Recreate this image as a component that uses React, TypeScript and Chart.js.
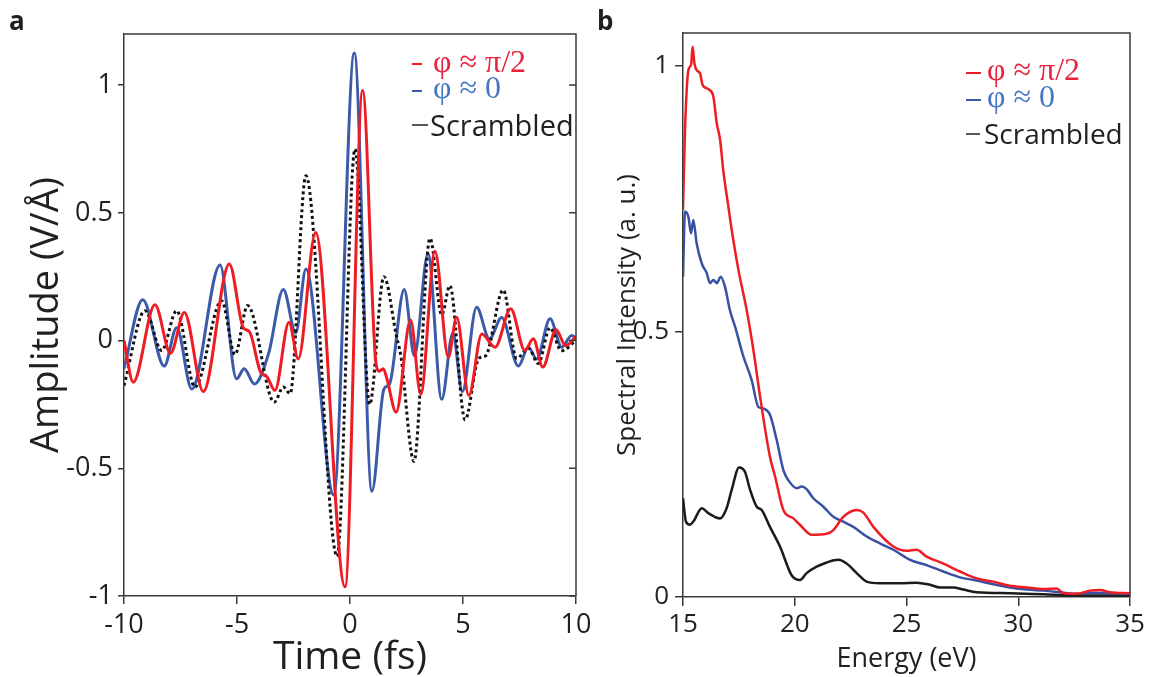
import React, { useEffect, useRef } from "react";
import { Chart, registerables } from "chart.js";

Chart.register(...registerables);

// ---------- Panel a: time-domain fields ----------
const timeTicks = [-10, -5, 0, 5, 10];
const amplitudeTicks = [-1, -0.5, 0, 0.5, 1];

const blueTime = [-10, -9.17, -8.22, -7.67, -7.0, -5.75, -5.02, -4.68, -4.23, -3.6, -2.95, -2.4, -1.95, -0.72, 0.19, 0.97, 1.5, 1.75, 2.4, 2.85, 3.45, 4.06, 4.55, 4.97, 5.6, 6.17, 6.71, 7.45, 7.89, 8.26, 8.85, 9.37, 9.81, 10];
const blueAmp = [-0.11, 0.16, -0.1, 0.05, -0.19, 0.296, -0.15, -0.11, -0.17, -0.05, 0.2, 0.03, 0.28, -0.605, 1.126, -0.59, -0.19, -0.17, 0.2, -0.06, 0.34, -0.23, 0.03, -0.2, 0.13, 0.007, 0.09, -0.1, -0.026, -0.072, 0.085, -0.026, 0.02, 0.01];

const redTime = [-10, -9.59, -8.63, -7.94, -7.33, -6.49, -5.34, -4.72, -4.45, -3.95, -3.69, -3.32, -2.7, -2.29, -1.52, -0.22, 0.56, 1.15, 1.3, 1.47, 1.62, 2.04, 2.68, 3.13, 3.76, 4.35, 4.72, 5.26, 5.83, 6.42, 7.11, 7.74, 8.11, 8.53, 9.12, 9.54, 10];
const redAmp = [0.0, -0.163, 0.14, -0.05, 0.11, -0.2, 0.3, 0.05, 0.035, -0.125, -0.14, -0.195, 0.072, -0.072, 0.423, -0.964, 0.979, -0.09, -0.12, -0.11, -0.145, -0.28, 0.08, -0.21, 0.35, -0.065, 0.091, -0.215, 0.026, -0.026, 0.124, -0.039, 0.007, -0.104, 0.042, -0.02, 0.016];

const scrTime = [-10, -9.07, -8.33, -7.67, -6.86, -5.68, -5.09, -4.53, -3.35, -2.95, -2.65, -1.95, -0.57, 0.22, 0.87, 1.5, 2.05, 2.25, 2.83, 3.54, 4.06, 4.42, 5.09, 5.7, 6.0, 6.78, 7.37, 7.9, 8.33, 8.85, 9.35, 10];
const scrAmp = [-0.176, 0.117, -0.039, 0.117, -0.182, 0.156, -0.055, 0.137, -0.241, -0.182, -0.208, 0.645, -0.845, 0.749, -0.25, 0.25, 0.02, -0.06, -0.473, 0.4, 0.1, 0.215, -0.31, -0.07, -0.06, 0.198, -0.07, -0.03, -0.09, 0.05, -0.04, 0.0];

// ---------- Panel b: spectra ----------
const energyTicks = [15, 20, 25, 30, 35];
const intensityTicks = [0, 0.5, 1];

const redEnergy = [15.0, 15.09, 15.24, 15.36, 15.43, 15.51, 15.61, 15.76, 15.88, 16.06, 16.18, 16.36, 16.51, 16.66, 16.8, 17.03, 17.18, 17.48, 17.85, 18.15, 18.45, 18.89, 19.12, 19.49, 19.94, 20.23, 20.76, 21.43, 21.73, 22.17, 22.77, 23.07, 23.52, 24.41, 25.01, 25.45, 25.9, 26.65, 27.39, 28.14, 28.89, 29.63, 30.38, 31.12, 31.72, 32.02, 32.61, 33.21, 33.66, 34.1, 35.0];
const redIntensity = [0.729, 0.88, 0.992, 1.002, 1.036, 1.005, 0.992, 0.986, 0.964, 0.958, 0.955, 0.942, 0.892, 0.861, 0.804, 0.735, 0.691, 0.616, 0.54, 0.465, 0.377, 0.264, 0.227, 0.164, 0.148, 0.136, 0.117, 0.119, 0.126, 0.151, 0.164, 0.159, 0.132, 0.095, 0.087, 0.089, 0.076, 0.063, 0.048, 0.035, 0.029, 0.021, 0.018, 0.015, 0.016, 0.007, 0.006, 0.012, 0.013, 0.009, 0.007];

const blueEnergy = [15.0, 15.09, 15.24, 15.36, 15.46, 15.61, 15.84, 16.06, 16.21, 16.36, 16.51, 16.69, 16.88, 17.1, 17.33, 17.7, 18.07, 18.37, 18.59, 18.89, 19.19, 19.49, 19.71, 20.09, 20.31, 20.53, 20.83, 21.28, 21.73, 22.17, 22.62, 23.22, 23.81, 24.41, 25.16, 25.9, 26.65, 27.39, 28.14, 28.89, 29.63, 30.38, 31.12, 31.87, 32.61, 33.36, 34.1, 35.0];
const blueIntensity = [0.603, 0.726, 0.716, 0.685, 0.71, 0.666, 0.628, 0.61, 0.591, 0.597, 0.591, 0.603, 0.584, 0.54, 0.509, 0.453, 0.409, 0.358, 0.355, 0.343, 0.296, 0.239, 0.22, 0.205, 0.208, 0.203, 0.186, 0.17, 0.151, 0.142, 0.132, 0.114, 0.101, 0.089, 0.07, 0.06, 0.048, 0.037, 0.031, 0.024, 0.018, 0.014, 0.012, 0.009, 0.006, 0.008, 0.007, 0.006];

const blackEnergy = [15.0, 15.13, 15.31, 15.46, 15.84, 16.13, 16.66, 16.95, 17.18, 17.51, 17.77, 18.0, 18.3, 18.52, 18.89, 19.34, 19.86, 20.23, 20.53, 20.98, 21.43, 21.95, 22.32, 22.77, 23.22, 23.81, 24.71, 25.45, 26.05, 26.5, 27.1, 27.54, 28.14, 29.63, 31.12, 32.61, 35.0];
const blackIntensity = [0.186, 0.142, 0.136, 0.142, 0.167, 0.158, 0.148, 0.167, 0.202, 0.244, 0.236, 0.202, 0.17, 0.164, 0.132, 0.095, 0.041, 0.032, 0.045, 0.057, 0.065, 0.07, 0.063, 0.045, 0.029, 0.026, 0.026, 0.027, 0.023, 0.018, 0.018, 0.014, 0.009, 0.007, 0.005, 0.003, 0.003];

const legendLabels = ["φ ≈ π/2", "φ ≈ 0", "Scrambled"];

// ---------- styling ----------
const SANS = "'Open Sans', 'Noto Sans', sans-serif";
const SERIF = "'Liberation Serif', 'DejaVu Serif', serif";
const INK = "#231f20";
const AXIS = "#3a3a3a";
const RED = "#ee1d24";
const BLUE = "#3b5ba9";
const RED_TEXT = "#e8223f";
const BLUE_TEXT = "#4677c4";

function pts(xs: number[], ys: number[]) {
  return xs.map((x, i) => ({ x, y: ys[i] }));
}

type LegendItem = {
  label: string;
  color: string;
  textColor: string;
  font: string;
  x1: number;
  x2: number;
  ly: number;
  lw: number;
  tx: number;
  baseline: number;
};

function makeFramePlugin(rightTicks: number[] | null, legend: LegendItem[]) {
  return {
    id: "frameAndLegend",
    afterDraw(chart: any) {
      const { ctx, chartArea } = chart;
      const { left, right, top, bottom } = chartArea;
      ctx.save();
      ctx.strokeStyle = AXIS;
      ctx.lineWidth = 1.5;
      ctx.beginPath();
      ctx.moveTo(left, top);
      ctx.lineTo(right, top);
      ctx.lineTo(right, bottom);
      ctx.stroke();
      if (rightTicks) {
        const ys = chart.scales.y;
        ctx.beginPath();
        for (const v of rightTicks) {
          const py = ys.getPixelForValue(v);
          ctx.moveTo(right - 7, py);
          ctx.lineTo(right, py);
        }
        ctx.stroke();
      }
      for (const it of legend) {
        ctx.strokeStyle = it.color;
        ctx.lineWidth = it.lw;
        ctx.beginPath();
        ctx.moveTo(it.x1, it.ly);
        ctx.lineTo(it.x2, it.ly);
        ctx.stroke();
        ctx.fillStyle = it.textColor;
        ctx.font = it.font;
        ctx.textBaseline = "alphabetic";
        ctx.textAlign = "left";
        ctx.fillText(it.label, it.tx, it.baseline);
      }
      ctx.restore();
    },
  };
}

function scaleCommon(tickValues: number[], tickSize: number, tickLen: number, tickPad: number) {
  return {
    type: "linear" as const,
    afterBuildTicks: (axis: any) => {
      axis.ticks = tickValues.map((v) => ({ value: v }));
    },
    ticks: {
      font: { family: SANS, size: tickSize },
      color: INK,
      padding: tickPad,
      autoSkip: false,
      maxRotation: 0,
      callback: (v: any) => String(v),
    },
    grid: {
      display: true,
      drawOnChartArea: false,
      drawTicks: true,
      tickLength: tickLen,
      color: AXIS,
      lineWidth: 1.5,
    },
    border: { display: true, color: AXIS, width: 1.5 },
  };
}

export default function App() {
  const refA = useRef<HTMLCanvasElement>(null);
  const refB = useRef<HTMLCanvasElement>(null);

  useEffect(() => {
    const chartA = new Chart(refA.current as HTMLCanvasElement, {
      type: "line",
      data: {
        datasets: [
          {
            label: legendLabels[0],
            data: pts(redTime, redAmp),
            borderColor: RED,
            borderWidth: 3,
            cubicInterpolationMode: "monotone",
            pointRadius: 0,
            order: 0,
          },
          {
            label: legendLabels[2],
            data: pts(scrTime, scrAmp),
            borderColor: "#111111",
            borderWidth: 3,
            borderDash: [3, 3],
            cubicInterpolationMode: "monotone",
            pointRadius: 0,
            order: 1,
          },
          {
            label: legendLabels[1],
            data: pts(blueTime, blueAmp),
            borderColor: BLUE,
            borderWidth: 3,
            cubicInterpolationMode: "monotone",
            pointRadius: 0,
            order: 2,
          },
        ],
      },
      options: {
        animation: false,
        responsive: false,
        devicePixelRatio: 1,
        layout: { padding: { left: 0, right: 24, top: 34, bottom: 0 } },
        plugins: { legend: { display: false }, tooltip: { enabled: false } },
        scales: {
          x: {
            ...scaleCommon(timeTicks, 27, 8, 5),
            min: -10,
            max: 10,
            afterFit: (s: any) => {
              s.height = 81;
            },
            title: {
              display: true,
              text: "Time (fs)",
              font: { family: SANS, size: 39, lineHeight: 1 },
              color: INK,
              padding: { top: 0, bottom: 0 },
            },
          },
          y: {
            ...scaleCommon(amplitudeTicks, 27, 6, 5),
            min: -1,
            max: 1.2,
            afterFit: (s: any) => {
              s.width = 124;
            },
            title: {
              display: true,
              text: "Amplitude (V/Å)",
              font: { family: SANS, size: 38 },
              color: INK,
              padding: { top: 24, bottom: 0 },
            },
          },
        },
      } as any,
      plugins: [
        makeFramePlugin(amplitudeTicks, [
          { label: legendLabels[0], color: RED, textColor: RED_TEXT, font: `32px ${SERIF}`, x1: 412, x2: 422, ly: 64, lw: 2, tx: 433, baseline: 72 },
          { label: legendLabels[1], color: BLUE, textColor: BLUE_TEXT, font: `32px ${SERIF}`, x1: 412, x2: 422, ly: 91, lw: 2, tx: 433, baseline: 98 },
          { label: legendLabels[2], color: INK, textColor: INK, font: `29px ${SANS}`, x1: 412, x2: 428, ly: 125, lw: 1.5, tx: 430, baseline: 136 },
        ]),
      ],
    });

    const chartB = new Chart(refB.current as HTMLCanvasElement, {
      type: "line",
      data: {
        datasets: [
          {
            label: legendLabels[0],
            data: pts(redEnergy, redIntensity),
            borderColor: RED,
            borderWidth: 2.5,
            cubicInterpolationMode: "monotone",
            pointRadius: 0,
            order: 0,
          },
          {
            label: legendLabels[1],
            data: pts(blueEnergy, blueIntensity),
            borderColor: "#3851a3",
            borderWidth: 2.5,
            cubicInterpolationMode: "monotone",
            pointRadius: 0,
            order: 1,
          },
          {
            label: legendLabels[2],
            data: pts(blackEnergy, blackIntensity),
            borderColor: "#1c1a1a",
            borderWidth: 2.5,
            cubicInterpolationMode: "monotone",
            pointRadius: 0,
            order: 2,
          },
        ],
      },
      options: {
        animation: false,
        responsive: false,
        devicePixelRatio: 1,
        layout: { padding: { left: 0, right: 21, top: 33, bottom: 0 } },
        plugins: { legend: { display: false }, tooltip: { enabled: false } },
        scales: {
          x: {
            ...scaleCommon(energyTicks, 26, 9, 3),
            min: 15,
            max: 35,
            afterFit: (s: any) => {
              s.height = 80;
            },
            title: {
              display: true,
              text: "Energy (eV)",
              font: { family: SANS, size: 27 },
              color: INK,
              padding: { top: 0, bottom: 1 },
            },
          },
          y: {
            ...scaleCommon(intensityTicks, 26, 8, 6),
            min: 0,
            max: 1.062,
            afterFit: (s: any) => {
              s.width = 103;
            },
            title: {
              display: true,
              text: "Spectral Intensity (a. u.)",
              font: { family: SANS, size: 26 },
              color: INK,
              padding: { top: 32, bottom: 0 },
            },
          },
        },
      } as any,
      plugins: [
        makeFramePlugin(null, [
          { label: legendLabels[0], color: RED, textColor: RED_TEXT, font: `32px ${SERIF}`, x1: 386, x2: 401, ly: 73, lw: 2, tx: 407, baseline: 80 },
          { label: legendLabels[1], color: BLUE, textColor: BLUE_TEXT, font: `32px ${SERIF}`, x1: 386, x2: 401, ly: 100, lw: 2, tx: 407, baseline: 107 },
          { label: legendLabels[2], color: INK, textColor: INK, font: `28px ${SANS}`, x1: 386, x2: 400, ly: 134, lw: 1.5, tx: 404, baseline: 144 },
        ]),
      ],
    });

    return () => {
      chartA.destroy();
      chartB.destroy();
    };
  }, []);

  return (
    <div style={{ position: "fixed", left: 0, top: 0, width: 1151, height: 677, background: "#ffffff", overflow: "hidden" }}>
      <canvas ref={refA} width={600} height={677} style={{ position: "absolute", left: 0, top: 0 }} />
      <canvas ref={refB} width={571} height={677} style={{ position: "absolute", left: 580, top: 0 }} />
      <div style={{ position: "absolute", left: 9, top: 7, font: `bold 26px ${SANS}`, lineHeight: "26px", color: INK }}>a</div>
      <div style={{ position: "absolute", left: 597, top: 7, font: `bold 26px ${SANS}`, lineHeight: "26px", color: INK }}>b</div>
    </div>
  );
}
